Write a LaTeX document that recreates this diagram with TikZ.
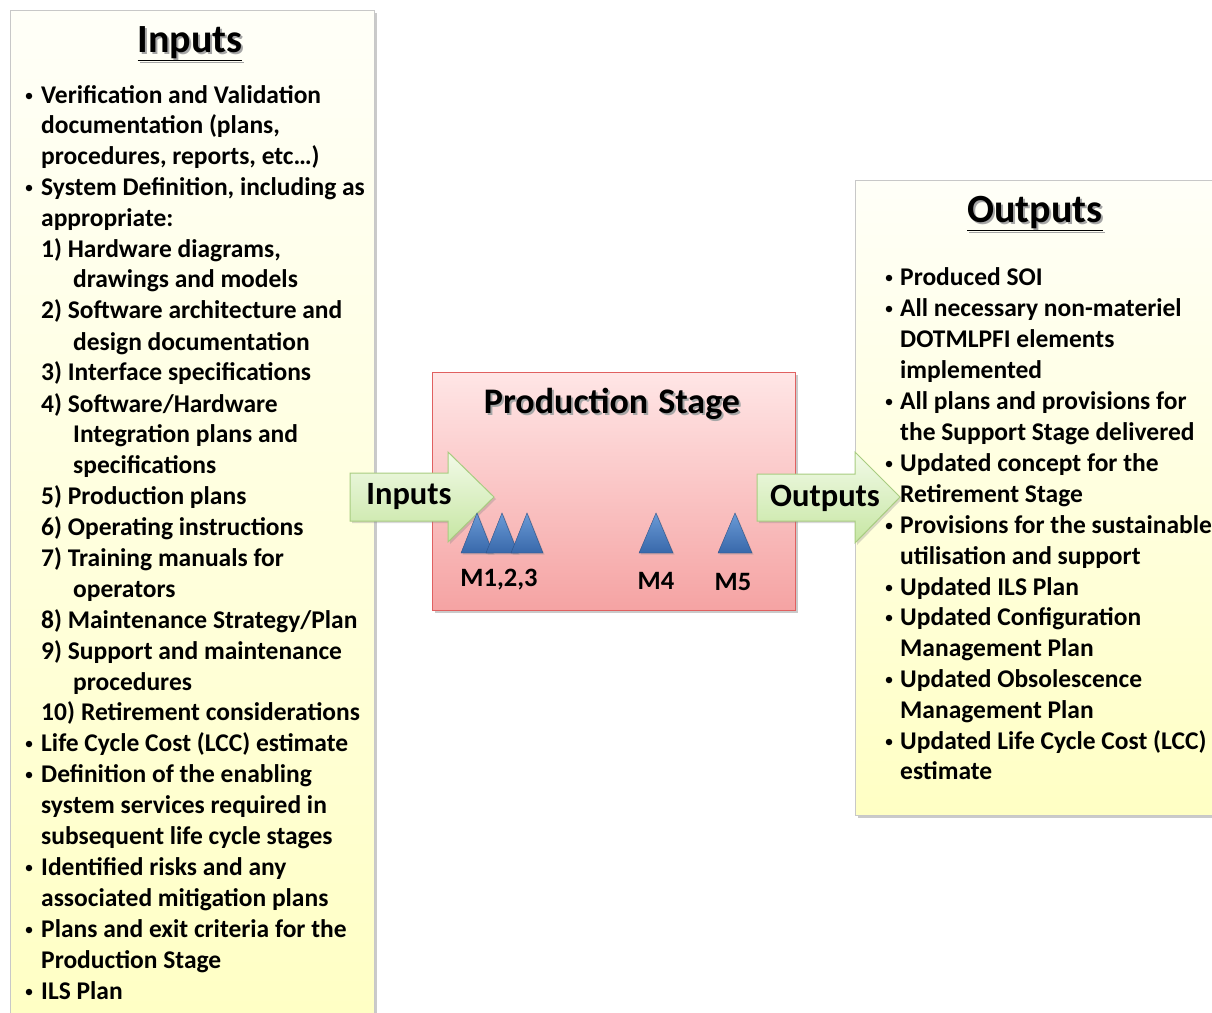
\documentclass[tikz,border=0pt]{standalone}
\usepackage{fontspec}
\setmainfont{Carlito}
\usetikzlibrary{shadows}
\definecolor{boxline}{HTML}{C8C8C8}
\definecolor{boxtop}{HTML}{FFFFF8}
\definecolor{boxbot}{HTML}{FFFFC4}
\definecolor{prodtop}{HTML}{FFE6E6}
\definecolor{prodbot}{HTML}{F5A3A3}
\definecolor{prodline}{HTML}{E06060}
\definecolor{arrtop}{HTML}{F2FAE8}
\definecolor{arrbot}{HTML}{C6E6A2}
\definecolor{arrline}{HTML}{A8CC80}
\definecolor{tritop}{HTML}{6A9AD6}
\definecolor{tribot}{HTML}{3868AA}
\tikzset{
  bodytxt/.style={anchor=mid west, inner sep=0pt, font=\fontsize{25.5}{25.5}\selectfont\bfseries, text=black},
  bul/.style={circle, fill=black, inner sep=0pt, minimum size=6.5pt, yshift=5pt},
  titletxt/.style={inner sep=0pt, font=\fontsize{40}{40}\selectfont\bfseries},
  mlabel/.style={inner sep=0pt, font=\fontsize{26.5}{26.5}\selectfont\bfseries},
  arrtxt/.style={inner sep=0pt, font=\fontsize{32.5}{32.5}\selectfont\bfseries},
  softshadow/.style={drop shadow={shadow xshift=2.5pt, shadow yshift=-2.5pt, opacity=0.35, fill=black!60}},
  tri/.style={top color=tritop, bottom color=tribot, draw=tribot!80!black, line width=0.4pt,
              drop shadow={shadow xshift=1.5pt, shadow yshift=-1.5pt, opacity=0.3}},
  arrowbox/.style={top color=arrtop, bottom color=arrbot, draw=arrline, line width=1pt,
              drop shadow={shadow xshift=2pt, shadow yshift=-2pt, opacity=0.3}}
}
\newcommand{\thickul}[1]{\setlength{\fboxsep}{0pt}\underline{#1}}
\begin{document}
\begin{tikzpicture}[x=1pt,y=-1pt]
\useasboundingbox (0,0) rectangle (1212,1012);
% ---------------- Left Inputs box
\path[softshadow, top color=boxtop, bottom color=boxbot, draw=boxline, line width=0.8pt]
  (10,10) rectangle (374,1030);
\node[titletxt, text=black!35] at (192,46) {\underline{Inputs}};
\node[titletxt] (intitle) at (190,44) {\underline{Inputs}};
\node[bul] (ib1) at (29,101) {};
\node[bodytxt] (i1) at (41,101) {Verification and Validation};
\node[bodytxt] (i2) at (41,131) {documentation (plans,};
\node[bodytxt] (i3) at (41,162) {procedures, reports, etc…)};
\node[bul] (ib2) at (29,193) {};
\node[bodytxt] (i4) at (41,193) {System Definition, including as};
\node[bodytxt] (i5) at (41,224) {appropriate:};
\node[bodytxt] (i6) at (41,255) {1) Hardware diagrams,};
\node[bodytxt] (i7) at (73,285) {drawings and models};
\node[bodytxt] (i8) at (41,316) {2) Software architecture and};
\node[bodytxt] (i9) at (73,348) {design documentation};
\node[bodytxt] (i10) at (41,378) {3) Interface specifications};
\node[bodytxt] (i11) at (41,410) {4) Software/Hardware};
\node[bodytxt] (i12) at (73,440) {Integration plans and};
\node[bodytxt] (i13) at (73,471) {specifications};
\node[bodytxt] (i14) at (41,502) {5) Production plans};
\node[bodytxt] (i15) at (41,533) {6) Operating instructions};
\node[bodytxt] (i16) at (41,564) {7) Training manuals for};
\node[bodytxt] (i17) at (73,595) {operators};
\node[bodytxt] (i18) at (41,626) {8) Maintenance Strategy/Plan};
\node[bodytxt] (i19) at (41,657) {9) Support and maintenance};
\node[bodytxt] (i20) at (73,688) {procedures};
\node[bodytxt] (i21) at (41,718) {10)\hspace{6pt}Retirement considerations};
\node[bul] (ib3) at (29,749) {};
\node[bodytxt] (i22) at (41,749) {Life Cycle Cost (LCC) estimate};
\node[bul] (ib4) at (29,780) {};
\node[bodytxt] (i23) at (41,780) {Definition of the enabling};
\node[bodytxt] (i24) at (41,811) {system services required in};
\node[bodytxt] (i25) at (41,842) {subsequent life cycle stages};
\node[bul] (ib5) at (29,873) {};
\node[bodytxt] (i26) at (41,873) {Identified risks and any};
\node[bodytxt] (i27) at (41,904) {associated mitigation plans};
\node[bul] (ib6) at (29,935) {};
\node[bodytxt] (i28) at (41,935) {Plans and exit criteria for the};
\node[bodytxt] (i29) at (41,966) {Production Stage};
\node[bul] (ib7) at (29,997) {};
\node[bodytxt] (i30) at (41,997) {ILS Plan};
% ---------------- Right Outputs box
\path[softshadow, top color=boxtop, bottom color=boxbot, draw=boxline, line width=0.8pt]
  (855,180) rectangle (1230,815);
\node[titletxt, text=black!35] at (1037,216) {\underline{Outputs}};
\node[titletxt] (outtitle) at (1035,214) {\underline{Outputs}};
\node[bul] (ob1) at (889,283) {};
\node[bodytxt] (o1) at (900,283) {Produced SOI};
\node[bul] (ob2) at (889,314) {};
\node[bodytxt] (o2) at (900,314) {All necessary non-materiel};
\node[bodytxt] (o3) at (900,345) {DOTMLPFI elements};
\node[bodytxt] (o4) at (900,376) {implemented};
\node[bul] (ob3) at (889,407) {};
\node[bodytxt] (o5) at (900,407) {All plans and provisions for};
\node[bodytxt] (o6) at (900,438) {the Support Stage delivered};
\node[bul] (ob4) at (889,469) {};
\node[bodytxt] (o7) at (900,469) {Updated concept for the};
\node[bodytxt] (o8) at (900,500) {Retirement Stage};
\node[bul] (ob5) at (889,531) {};
\node[bodytxt] (o9) at (900,531) {Provisions for the sustainable};
\node[bodytxt] (o10) at (900,562) {utilisation and support};
\node[bul] (ob6) at (889,593) {};
\node[bodytxt] (o11) at (900,593) {Updated ILS Plan};
\node[bul] (ob7) at (889,623) {};
\node[bodytxt] (o12) at (900,623) {Updated Configuration};
\node[bodytxt] (o13) at (900,654) {Management Plan};
\node[bul] (ob8) at (889,685) {};
\node[bodytxt] (o14) at (900,685) {Updated Obsolescence};
\node[bodytxt] (o15) at (900,716) {Management Plan};
\node[bul] (ob9) at (889,747) {};
\node[bodytxt] (o16) at (900,747) {Updated Life Cycle Cost (LCC)};
\node[bodytxt] (o17) at (900,777) {estimate};
% ---------------- Production stage box
\path[softshadow, top color=prodtop, bottom color=prodbot, draw=prodline, line width=1pt]
  (432,372) rectangle (795,610);
\node[inner sep=0pt, font=\fontsize{36}{36}\selectfont\bfseries, text=black!35] at (614,406) {Production\hspace{10pt}Stage};
\node[inner sep=0pt, font=\fontsize{36}{36}\selectfont\bfseries] (prodtitle) at (612,404) {Production\hspace{10pt}Stage};
% ---------------- Arrows
\path[arrowbox] (350,473) -- (448,473) -- (448,452) -- (494,497) -- (448,542) -- (448,521) -- (350,521) -- cycle;
\node[arrtxt] (inarr) at (409,497) {Inputs};
\path[arrowbox] (757,474) -- (855,474) -- (855,452) -- (900,497) -- (855,543) -- (855,521) -- (757,521) -- cycle;
\node[arrtxt] (outarr) at (825,498) {Outputs};
% ---------------- Milestones
\path[tri] (461,553) -- (477,513) -- (493,553) -- cycle;
\path[tri] (486,553) -- (502,513) -- (518,553) -- cycle;
\path[tri] (511,553) -- (527,513) -- (543,553) -- cycle;
\path[tri] (639,553) -- (656,513) -- (673,553) -- cycle;
\path[tri] (718,553) -- (735,513) -- (752,553) -- cycle;
\node[mlabel] (m123) at (499,580) {M1,2,3};
\node[mlabel] (m4) at (656,581) {M4};
\node[mlabel] (m5) at (733,582) {M5};
\end{tikzpicture}
\end{document}
